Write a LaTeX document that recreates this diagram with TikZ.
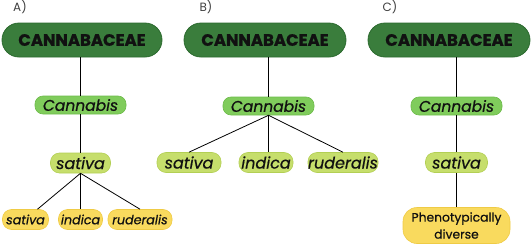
\documentclass[tikz,border=0pt]{standalone}
\usepackage{fontspec}
\setmainfont{Poppins}
\newfontfamily\medfont{Poppins}[FakeBold=0.6]
\newfontfamily\heavyfont{Poppins}[FakeBold=1.2]
\definecolor{famfill}{HTML}{3A7D3C}
\definecolor{famdraw}{HTML}{2B6A2E}
\definecolor{genfill}{HTML}{80CC5C}
\definecolor{gendraw}{HTML}{6DBB4A}
\definecolor{spfill}{HTML}{C6DE6C}
\definecolor{spdraw}{HTML}{B3CF55}
\definecolor{ylfill}{HTML}{F9DA5E}
\definecolor{yldraw}{HTML}{EFCB45}
\definecolor{txt}{HTML}{111111}
\tikzset{
  fam/.style={draw=famdraw, line width=0.8pt, fill=famfill, rounded corners=17pt, minimum width=160pt, minimum height=34pt, inner sep=0pt, text=txt, font=\heavyfont\fontsize{16.5}{17}\selectfont\bfseries},
  gen/.style={draw=gendraw, line width=0.6pt, fill=genfill, rounded corners=8pt, minimum width=91pt, minimum height=18pt, inner sep=0pt, text=txt, font=\medfont\fontsize{15.5}{16}\selectfont\itshape},
  sp/.style={draw=spdraw, line width=0.6pt, fill=spfill, rounded corners=9pt, minimum height=20pt, inner sep=0pt, text=txt, font=\medfont\fontsize{16}{17}\selectfont\itshape},
  yl/.style={draw=yldraw, line width=0.6pt, fill=ylfill, rounded corners=9pt, minimum height=20pt, inner sep=0pt, text=txt, font=\medfont\fontsize{12.7}{14}\selectfont\itshape},
  pheno/.style={draw=yldraw, line width=0.6pt, fill=ylfill, rounded corners=14pt, minimum width=107pt, minimum height=36pt, inner sep=0pt, align=center, text=txt, font=\medfont\fontsize{12.3}{17}\selectfont},
  lbl/.style={text=black!75, font=\fontsize{12}{12}\selectfont, inner sep=0pt},
  conn/.style={draw=black, line width=0.8pt}
}
\begin{document}
\begin{tikzpicture}[x=1pt,y=-1pt]
\useasboundingbox (0,0) rectangle (531,244);
% Panel A
\node[lbl] (la) at (20,7) {A)};
\node[fam] (fa) at (82,40) {CANNABACEAE};
\node[gen] (ga) at (80.5,105) {Cannabis};
\node[sp, minimum width=60pt] (sa) at (80.5,163) {sativa};
\node[yl, minimum width=46pt] (a1) at (25.5,219.5) {sativa};
\node[yl, minimum width=44pt] (a2) at (80.5,219.5) {indica};
\node[yl, minimum width=64pt] (a3) at (140,219.5) {ruderalis};
\draw[conn] (fa.south -| ga) -- (ga.north);
\draw[conn] (ga.south) -- (sa.north);
\draw[conn] (sa.south) -- ([xshift=12pt]a1.north);
\draw[conn] (sa.south) -- (a2.north);
\draw[conn] (sa.south) -- (a3.north);
% Panel B
\node[lbl] (lb) at (206,7) {B)};
\node[fam, minimum width=162pt] (fb) at (265,40) {CANNABACEAE};
\node[gen] (gb) at (268.5,106) {Cannabis};
\node[sp, minimum width=64pt] (b1) at (189,162.5) {sativa};
\node[sp, minimum width=54pt] (b2) at (266,162.5) {indica};
\node[sp, minimum width=70pt] (b3) at (343,162.5) {ruderalis};
\draw[conn] (fb.south -| gb) -- (gb.north);
\draw[conn] (gb.south) -- (b1.north);
\draw[conn] (gb.south) -- (b2.north -| gb.south);
\draw[conn] (gb.south) -- (b3.north);
% Panel C
\node[lbl] (lc) at (390,7) {C)};
\node[fam, minimum width=162pt] (fc) at (449,40) {CANNABACEAE};
\node[gen] (gc) at (456.5,106) {Cannabis};
\node[sp, minimum width=62pt] (sc) at (456.5,162.5) {sativa};
\node[pheno] (pc) at (456.5,225.5) {Phenotypically\\diverse};
\draw[conn] (fc.south -| gc) -- (gc.north);
\draw[conn] (gc.south) -- (sc.north);
\draw[conn] (sc.south) -- (pc.north);
\end{tikzpicture}
\end{document}
